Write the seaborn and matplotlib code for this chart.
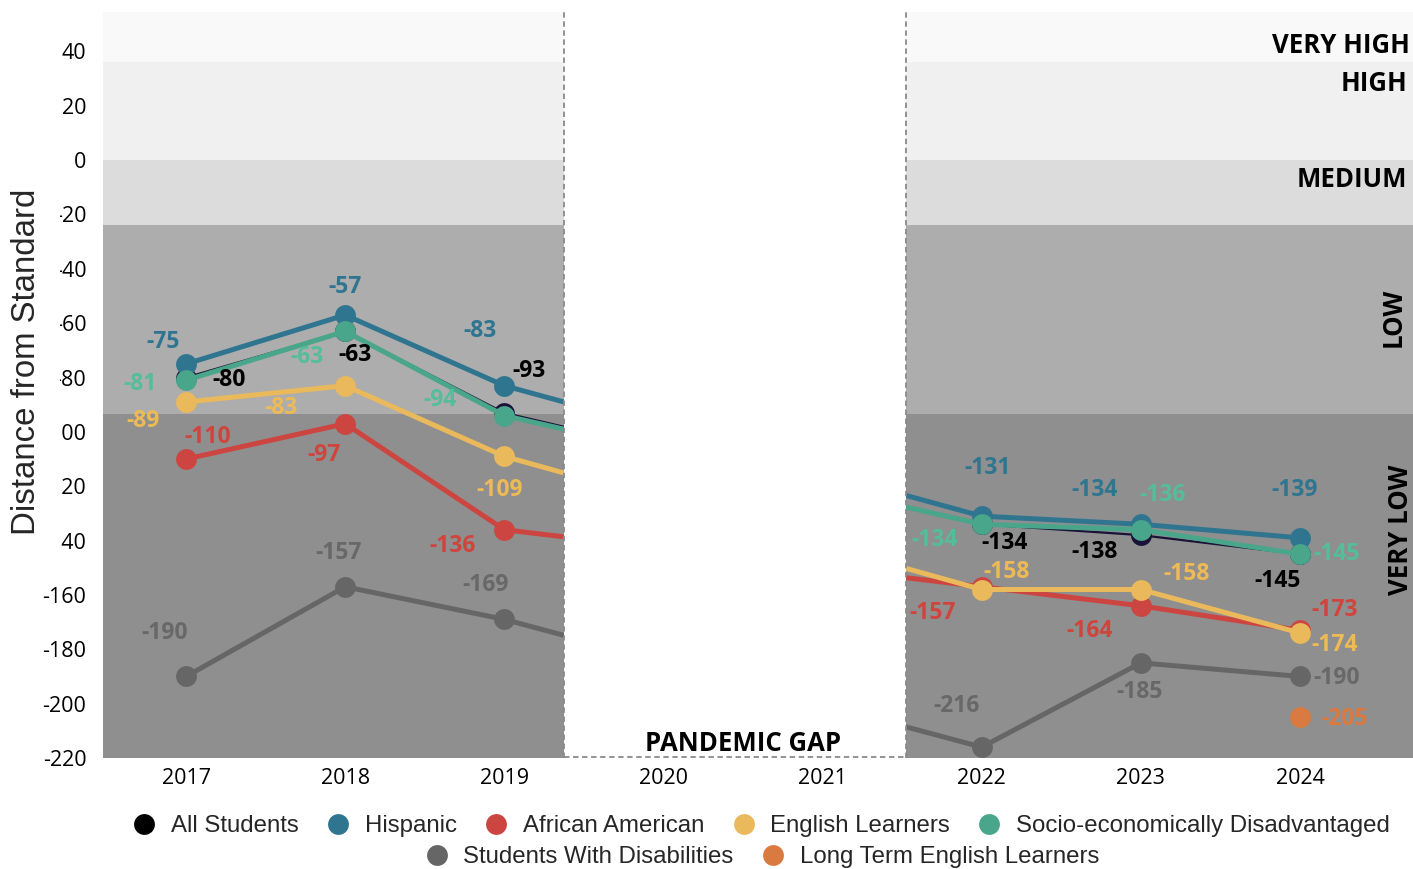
import numpy as np
import pandas as pd
import matplotlib
matplotlib.use("Agg")
import matplotlib.pyplot as plt
from matplotlib.lines import Line2D
from matplotlib.patches import Rectangle
import seaborn as sns

# ---- data -------------------------------------------------------------
years = [2017, 2018, 2019, 2022, 2023, 2024]
all_students = [-80, -63, -93, -134, -138, -145]
hispanic = [-75, -57, -83, -131, -134, -139]
african_american = [-110, -97, -136, -157, -164, -173]
english_learners = [-89, -83, -109, -158, -158, -174]
socio_econ = [-81, -63, -94, -134, -136, -145]
disabilities = [-190, -157, -169, -216, -185, -190]
ltel_years = [2024]
long_term_el = [-205]

groups = ["All Students", "Hispanic", "African American", "English Learners",
          "Socio-economically Disadvantaged", "Students With Disabilities",
          "Long Term English Learners"]

xtick_years = list(range(2017, 2025))
yticks = list(range(-220, 41, 20))

band_names = ["VERY LOW", "LOW", "MEDIUM", "HIGH", "VERY HIGH"]
band_edges = [-220, -93.5, -24, 0, 36, 54.5]

# ---- styling ----------------------------------------------------------
sns.set_style("white")
plt.rcParams["font.family"] = ["Open Sans", "DejaVu Sans"]

line_colors = {
    "All Students": "#1a1238",
    "Hispanic": "#2f7590",
    "African American": "#cc4541",
    "English Learners": "#e9b95b",
    "Socio-economically Disadvantaged": "#49a68a",
    "Students With Disabilities": "#666666",
    "Long Term English Learners": "#d97a40",
}
legend_colors = dict(line_colors, **{"All Students": "#000000"})
label_colors = {
    "All Students": "#000000",
    "Hispanic": "#2f7590",
    "African American": "#d0443e",
    "English Learners": "#edba55",
    "Socio-economically Disadvantaged": "#55bd9a",
    "Students With Disabilities": "#686868",
    "Long Term English Learners": "#dc7a3e",
}
line_widths = {g: 3.6 for g in groups}
line_widths["All Students"] = 1.6
band_colors = ["#8f8f8f", "#adadad", "#dcdcdc", "#f0f0f0", "#f9f9f9"]

# draw order, bottom to top
draw_order = ["Students With Disabilities", "African American", "English Learners",
              "All Students", "Hispanic", "Socio-economically Disadvantaged",
              "Long Term English Learners"]

# value-label offsets in pixels (dx, dy) from each point
label_offsets = {
    "All Students": [(43, -2), (10, -24), (25, 42), (23, -19), (-46, -17), (-22, -27)],
    "Hispanic": [(-23, 22), (0, 28), (-24, 55), (6, 48), (-46, 34), (-5, 48)],
    "African American": [(22, 22), (-21, -31), (-52, -16), (-49, -26), (-51, -25), (35, 20)],
    "English Learners": [(-43, -19), (-64, -22), (-5, -34), (25, 18), (46, 16), (35, -12)],
    "Socio-economically Disadvantaged": [(-46, -4), (-38, -26), (-64, 16), (-47, -16), (22, 35), (37, 0)],
    "Students With Disabilities": [(-21, 43), (-7, 34), (-19, 34), (-25, 41), (-1, -29), (37, -2)],
    "Long Term English Learners": [(45, -2)],
}

# ---- long-form table --------------------------------------------------
series = [all_students, hispanic, african_american, english_learners,
          socio_econ, disabilities]
rows = []
for g, vals in zip(groups[:6], series):
    for y, v in zip(years, vals):
        rows.append((g, y, v))
for y, v in zip(ltel_years, long_term_el):
    rows.append((groups[6], y, v))
df = pd.DataFrame(rows, columns=["group", "year", "score"])

# ---- figure -----------------------------------------------------------
W, H = 1413, 869
fig = plt.figure(figsize=(W / 100, H / 100), dpi=100)
ax = fig.add_axes([103 / W, 111 / H, 1310 / W, 746 / H])

x_lo, x_hi = 2016.478, 2024.71
ax.set_xlim(x_lo, x_hi)
ax.set_ylim(band_edges[0], band_edges[-1])

# performance bands
for lo, hi, c in zip(band_edges[:-1], band_edges[1:], band_colors):
    ax.axhspan(lo, hi, color=c, lw=0, zorder=0)

for z, g in enumerate(draw_order):
    sub = df[df["group"] == g]
    sns.lineplot(data=sub, x="year", y="score", ax=ax, color=line_colors[g],
                 lw=line_widths[g], marker="o", markersize=15,
                 markeredgewidth=0, legend=False, zorder=2 + z * 0.1)

# pandemic gap
gap_lo, gap_hi = 2019.376, 2021.525
ax.add_patch(Rectangle((gap_lo, band_edges[0]), gap_hi - gap_lo,
                       band_edges[-1] - band_edges[0], facecolor="white",
                       lw=0, zorder=3.5))
dash = dict(color="#8a8a8a", lw=1.3, ls=(0, (3, 2)), zorder=3.6, clip_on=False)
ax.plot([gap_lo, gap_lo], [band_edges[0], band_edges[-1]], **dash)
ax.plot([gap_hi, gap_hi], [band_edges[0], band_edges[-1]], **dash)
ax.plot([gap_lo, gap_hi], [band_edges[0] + 0.5, band_edges[0] + 0.5], **dash)
ax.text(2020.5, -214.5, "PANDEMIC GAP", ha="center", va="center",
        fontsize=18.5, fontweight="bold", color="#000000", zorder=4)

# value labels
for _, r in df.iterrows():
    g = r["group"]
    if g == groups[6]:
        i = ltel_years.index(r["year"])
    else:
        i = years.index(r["year"])
    dx, dy = label_offsets[g][i]
    ax.annotate(f"{int(r['score'])}", (r["year"], r["score"]),
                xytext=(dx, dy), textcoords="offset pixels",
                ha="center", va="center", fontsize=16.5, fontweight="bold",
                color=label_colors[g], zorder=5)

# band names on the right
zone = dict(fontsize=18.5, fontweight="bold", color="#000000", zorder=5)
ax.text(0.9977, 42.3, "VERY HIGH", transform=ax.get_yaxis_transform(),
        ha="right", va="center", **zone)
ax.text(0.9955, 28.3, "HIGH", transform=ax.get_yaxis_transform(),
        ha="right", va="center", **zone)
ax.text(0.9955, -7, "MEDIUM", transform=ax.get_yaxis_transform(),
        ha="right", va="center", **zone)
ax.text(2024.585, -58, "LOW", rotation=90, ha="center", va="center", **zone)
ax.text(2024.63, -136, "VERY LOW", rotation=90, ha="center", va="center", **zone)

# axes
ax.set_xticks(xtick_years)
ax.set_xticklabels([str(y) for y in xtick_years])
ax.set_yticks(yticks)
ax.set_yticklabels([str(v) for v in yticks])
ax.tick_params(axis="both", length=0, labelsize=15.5, colors="#000000")
ax.tick_params(axis="y", pad=12)
ax.tick_params(axis="x", pad=7)
ax.set_xlabel("")
ax.set_ylabel("")
for s in ax.spines.values():
    s.set_visible(False)

# axis title sits over the tick column on a white panel
fig.add_artist(Rectangle((0, 1 - 560 / H), 60 / W, (560 - 185) / H,
                         transform=fig.transFigure, facecolor="white",
                         lw=0, zorder=5))
fig.text(27 / W, 1 - 362 / H, "Distance from Standard", rotation=90,
         ha="center", va="center", fontsize=23.8, family=["Liberation Sans"],
         zorder=6)

# legend in two centred rows
def handles(names):
    return [Line2D([], [], ls="", marker="o", markersize=15, mew=0,
                   color=legend_colors[n]) for n in names]

leg_kw = dict(frameon=False, prop={"family": "Liberation Sans", "size": 17.3},
              handlelength=1.0, handletextpad=0.6, columnspacing=1.15,
              borderpad=0, borderaxespad=0)
row1 = groups[:5]
row2 = groups[5:]
fig.legend(handles(row1), row1, ncol=5, loc="center",
           bbox_to_anchor=(761 / W, 1 - 826 / H), **leg_kw)
fig.legend(handles(row2), row2, ncol=2, loc="center",
           bbox_to_anchor=(762 / W, 1 - 857 / H), **leg_kw)

fig.savefig("out.png", dpi=100, facecolor="white")
